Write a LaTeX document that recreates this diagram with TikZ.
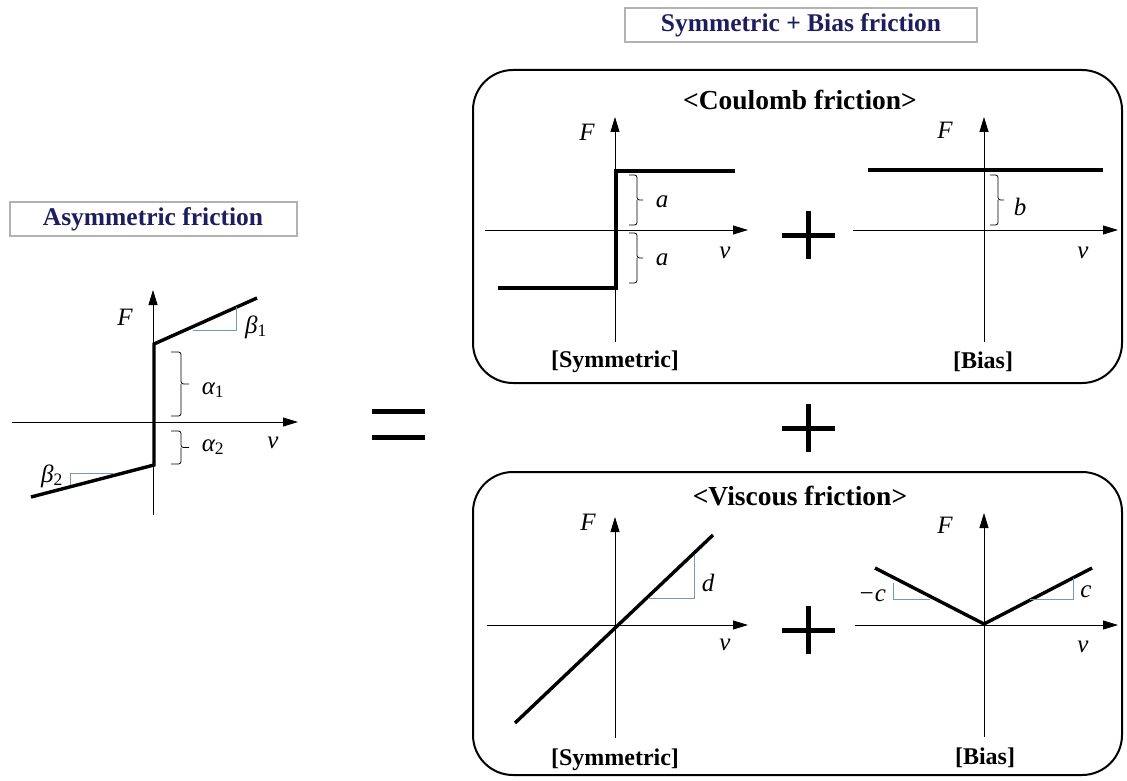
\documentclass[tikz,border=0pt]{standalone}
\usepackage{fontspec}
\setmainfont{Liberation Serif}
\usetikzlibrary{arrows.meta}
\definecolor{navy}{RGB}{30,30,95}
\definecolor{slope}{RGB}{115,150,195}
\newcommand\brk[4]{\draw[bk] (#1,#2)-|(#1+#4,{(#2+#3)/2})--++(#4-2,0);\draw[bk] (#1,#3)-|(#1+#4,{(#2+#3)/2});}
\begin{document}
\begin{tikzpicture}[x=1pt,y=-1pt,line width=1pt,
 ax/.style={line width=.9pt,-{Triangle[length=15pt,width=9pt]}},
 fr/.style={line width=3.4pt},
 sl/.style={draw=slope,line width=1pt},
 bk/.style={line width=.8pt,rounded corners=2.5pt},
 ttl/.style={draw=gray!60,line width=2pt,text=navy,minimum height=34pt,font=\bfseries\fontsize{25.5}{25.5}\selectfont},
 hd/.style={font=\bfseries\fontsize{27.5}{27.5}\selectfont},
 sub/.style={font=\bfseries\fontsize{24}{24}\selectfont},
 lb/.style={font=\itshape\fontsize{25}{25}\selectfont,inner sep=0pt},
 panel/.style={rounded corners=40pt,line width=2pt},
 pl/.style={line width=5pt}]
\useasboundingbox (0,0) rectangle (1127,781);
% titles
\node[ttl,minimum width=287pt] (asym) at (153,219) {Asymmetric friction};
\node[ttl,minimum width=352pt] (symb) at (801,25) {Symmetric + Bias friction};
% asymmetric friction
\draw[ax] (153,515)--(153,290);\draw[ax] (12,422)--(298,422);
\draw[fr] (31,497)--(154,465)--(154,344)--(257,298);
\draw[sl] (193,330)--(236,330)--(236,307);\draw[sl] (113,473)--(70,473)--(70,485);
\brk{171}{352}{416}{10}\brk{171}{431}{464}{10}
\node[lb] (F0) at (125,317){F};\node[lb] (v0) at (273,443){v};
\node[lb] (b1) at (256,327){β\textsubscript{\upshape 1}};\node[lb] (b2) at (52,476){β\textsubscript{\upshape 2}};
\node[lb] (a1) at (213,390){α\textsubscript{\upshape 1}};\node[lb] (a2) at (213,447){α\textsubscript{\upshape 2}};
\draw[pl] (372,411)--(425,411);\draw[pl] (372,437)--(425,437);
% coulomb
\draw[panel] (473,70) rectangle (1122,383);
\node[hd] (coul) at (800,100){<Coulomb friction>};
\draw[ax] (615,342)--(615,117);\draw[ax] (485,230)--(748,230);
\draw[fr] (498,288)--(616,288)--(616,171)--(735,171);
\brk{629}{175}{225}{8}\brk{629}{233}{283}{8}
\node[lb] (F1) at (587,132){F};\node[lb] (v1) at (725,253){v};
\node[lb] (ca1) at (662,202){a};\node[lb] (ca2) at (662,260){a};
\node[sub] (cs) at (615,362){[Symmetric]};
\draw[pl] (782,235)--(835,235);\draw[pl] (808,211)--(808,259);
\draw[ax] (984,342)--(984,117);\draw[ax] (853,230)--(1118,230);
\draw[fr] (868,170)--(1103,170);
\brk{990}{175}{225}{8}
\node[lb] (F2) at (945,130){F};\node[lb] (v2) at (1083,253){v};\node[lb] (cb) at (1020,207){b};
\node[sub] (cbias) at (983,362){[Bias]};
\draw[pl] (782,428)--(835,428);\draw[pl] (808,404)--(808,452);
% viscous
\draw[panel] (473,472) rectangle (1122,775);
\node[hd] (visc) at (800,496){<Viscous friction>};
\draw[ax] (615,738)--(615,517);\draw[ax] (487,625)--(748,625);
\draw[fr] (515,723)--(713,535);
\draw[sl] (648,598)--(694,598)--(694,555);
\node[lb] (F3) at (588,522){F};\node[lb] (v3) at (725,645){v};\node[lb] (vd) at (708,583){d};
\node[sub] (vs) at (615,760){[Symmetric]};
\draw[pl] (782,630)--(835,630);\draw[pl] (808,606)--(808,654);
\draw[ax] (984,737)--(984,513);\draw[ax] (855,625)--(1118,625);
\draw[fr] (875,568)--(984,624)--(1092,568);
\draw[sl] (930,599)--(893,599)--(893,583);\draw[sl] (1030,599)--(1073,599)--(1073,578);
\node[lb] (F4) at (945,525){F};\node[lb] (v4) at (1083,647){v};
\node[lb] (vc1) at (872,596){−c};\node[lb] (vc2) at (1086,592){c};
\node[sub] (vbias) at (985,758){[Bias]};
\end{tikzpicture}
\end{document}
